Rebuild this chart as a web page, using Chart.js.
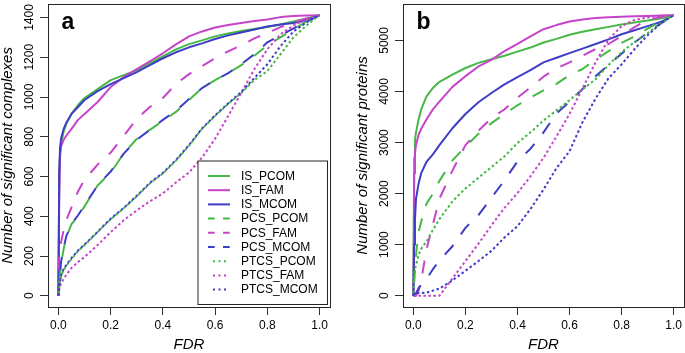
<!DOCTYPE html>
<html>
<head>
<meta charset="utf-8">
<script src="https://cdn.jsdelivr.net/npm/chart.js@4.4.1/dist/chart.umd.min.js"></script>
<style>
  html, body { margin: 0; padding: 0; background: #ffffff; }
  #wrap { position: relative; width: 685px; height: 353px; overflow: hidden; background: #ffffff; }
  #ca { position: absolute; left: 0; top: 0; }
  #cb { position: absolute; left: 345px; top: 0; }
</style>
</head>
<body>
<div id="wrap">
  <canvas id="ca" width="345" height="353"></canvas>
  <canvas id="cb" width="340" height="353"></canvas>
</div>
<script>
// ---------------- data ----------------
const FDR = [0, 0.003, 0.006, 0.01, 0.02, 0.03, 0.05, 0.075, 0.1, 0.15, 0.2, 0.25, 0.3, 0.35, 0.4, 0.45, 0.5, 0.55, 0.6, 0.65, 0.7, 0.75, 0.8, 0.85, 0.9, 0.95, 1.0];
const seriesNames = ['IS_PCOM', 'IS_FAM', 'IS_MCOM', 'PCS_PCOM', 'PCS_FAM', 'PCS_MCOM', 'PTCS_PCOM', 'PTCS_FAM', 'PTCS_MCOM'];
const xTicks = [0, 0.2, 0.4, 0.6, 0.8, 1.0];
const yTicksA = [0, 200, 400, 600, 800, 1000, 1200, 1400];
const yTicksB = [0, 1000, 2000, 3000, 4000, 5000];

// panel a: number of significant complexes
const A_IS_PCOM   = [0, 600, 720, 770, 825, 865, 915, 960, 995, 1040, 1085, 1110, 1135, 1170, 1205, 1240, 1266, 1285, 1305, 1320, 1332, 1342, 1352, 1365, 1380, 1395, 1412];
const A_IS_FAM    = [0, 500, 700, 750, 785, 805, 840, 885, 915, 975, 1050, 1100, 1140, 1180, 1220, 1265, 1305, 1330, 1350, 1362, 1372, 1382, 1390, 1402, 1408, 1410, 1412];
const A_IS_MCOM   = [0, 620, 740, 790, 840, 870, 915, 950, 985, 1030, 1065, 1095, 1125, 1160, 1195, 1225, 1250, 1270, 1292, 1310, 1325, 1340, 1355, 1365, 1372, 1385, 1412];
const A_PCS_PCOM  = [0, 60, 100, 160, 235, 295, 360, 400, 450, 555, 620, 715, 790, 835, 880, 925, 985, 1045, 1085, 1120, 1160, 1208, 1260, 1300, 1340, 1380, 1412];
const A_PCS_FAM   = [0, 200, 230, 270, 330, 380, 445, 525, 585, 660, 720, 805, 890, 950, 995, 1065, 1115, 1155, 1195, 1230, 1260, 1295, 1322, 1352, 1375, 1395, 1412];
const A_PCS_MCOM  = [0, 70, 110, 170, 240, 300, 360, 405, 455, 555, 625, 715, 785, 835, 885, 930, 990, 1045, 1085, 1120, 1165, 1215, 1275, 1310, 1345, 1380, 1412];
const A_PTCS_PCOM = [0, 40, 70, 95, 130, 150, 185, 225, 255, 320, 385, 440, 500, 565, 615, 680, 755, 840, 905, 965, 1020, 1085, 1130, 1215, 1300, 1360, 1412];
const A_PTCS_FAM  = [0, 30, 50, 62, 85, 105, 140, 170, 195, 255, 320, 380, 430, 475, 515, 570, 620, 695, 790, 905, 1020, 1140, 1240, 1315, 1360, 1390, 1412];
const A_PTCS_MCOM = [0, 45, 75, 100, 135, 155, 190, 228, 258, 322, 388, 442, 503, 568, 618, 683, 758, 842, 908, 968, 1025, 1095, 1165, 1255, 1330, 1375, 1412];

// panel b: number of significant proteins
const B_IS_PCOM   = [0, 2700, 3050, 3200, 3450, 3650, 3900, 4070, 4190, 4330, 4460, 4560, 4630, 4700, 4780, 4860, 4960, 5030, 5110, 5170, 5220, 5265, 5310, 5350, 5390, 5430, 5495];
const B_IS_FAM    = [0, 2400, 2800, 2950, 3150, 3270, 3450, 3650, 3800, 4090, 4300, 4490, 4620, 4790, 4930, 5080, 5220, 5300, 5370, 5410, 5440, 5455, 5465, 5472, 5480, 5488, 5495];
const B_IS_MCOM   = [0, 1000, 1500, 1900, 2200, 2400, 2620, 2770, 2950, 3280, 3560, 3790, 3970, 4140, 4280, 4420, 4570, 4660, 4750, 4840, 4930, 5020, 5120, 5200, 5280, 5360, 5495];
const B_PCS_PCOM  = [0, 250, 500, 800, 1250, 1450, 1800, 2000, 2250, 2650, 2920, 3170, 3380, 3560, 3730, 3880, 4020, 4150, 4320, 4440, 4620, 4790, 4950, 5080, 5230, 5370, 5495];
const B_PCS_FAM   = [0, 0, 0, 0, 100, 300, 900, 1400, 1900, 2450, 2950, 3230, 3480, 3650, 3880, 4080, 4290, 4450, 4570, 4700, 4830, 4930, 5090, 5260, 5400, 5460, 5495];
const B_PCS_MCOM  = [0, 20, 40, 50, 150, 220, 330, 520, 690, 970, 1330, 1580, 1920, 2260, 2630, 2880, 3200, 3570, 3800, 4050, 4300, 4520, 4740, 4960, 5150, 5330, 5495];
const B_PTCS_PCOM = [0, 400, 520, 600, 800, 920, 1060, 1290, 1500, 1850, 2100, 2310, 2520, 2730, 2990, 3200, 3430, 3630, 3830, 4040, 4240, 4520, 4770, 4970, 5140, 5330, 5495];
const B_PTCS_FAM  = [0, 0, 0, 0, 0, 0, 0, 0, 0, 340, 680, 1020, 1380, 1720, 2010, 2340, 2700, 3120, 3560, 4060, 4570, 5020, 5280, 5400, 5450, 5480, 5495];
const B_PTCS_MCOM = [0, 40, 45, 50, 55, 55, 60, 100, 140, 300, 490, 680, 880, 1140, 1360, 1700, 2080, 2500, 2830, 3400, 3860, 4260, 4530, 4830, 5100, 5330, 5495];

// ---------------- styles ----------------
const FONT = '"Liberation Sans", Arial, Helvetica, sans-serif';
Chart.defaults.font.family = FONT;
Chart.defaults.color = '#000000';
const COLORS = { PCOM: '#45b845', FAM: '#c644c9', MCOM: '#3d3dc6' };
const PLOT_DASH = { IS: [], PCS: [13, 13], PTCS: [2.5, 2.5] };
const LEGEND_DASH = { IS: [], PCS: [6.7, 8.3], PTCS: [2, 3.5] };
const PHASE = { IS: 0, PCS: 13, PTCS: 2.5 };

function buildDatasets(vals) {
  return seriesNames.map((name, i) => {
    const [kind, group] = name.split('_');
    return {
      label: name,
      data: FDR.map((f, j) => ({ x: f, y: vals[i][j] })),
      borderColor: COLORS[group],
      backgroundColor: COLORS[group],
      borderWidth: 2,
      borderDash: PLOT_DASH[kind],
      borderDashOffset: group === 'PCOM' ? PHASE[kind] : 0,
      borderCapStyle: 'butt',
      borderJoinStyle: 'round',
      pointRadius: 0,
      pointHoverRadius: 0,
      tension: 0,
      fill: false,
      order: seriesNames.length - i,
      legendKind: kind
    };
  });
}

// frame around the plot region + panel letter
const framePlugin = {
  id: 'frame',
  afterDraw(chart, args, opts) {
    const { ctx, chartArea: a } = chart;
    const L = Math.round(a.left), R = Math.round(a.right), T = Math.round(a.top), B = Math.round(a.bottom);
    ctx.save();
    ctx.strokeStyle = '#262626';
    ctx.lineWidth = 1;
    ctx.setLineDash([]);
    ctx.strokeRect(L + 0.5, T + 0.5, R - L, B - T);
    ctx.fillStyle = '#000000';
    ctx.font = 'bold 23px ' + FONT;
    ctx.textAlign = 'left';
    ctx.textBaseline = 'alphabetic';
    ctx.fillText(opts.text, L + 13.5, T + 25);
    ctx.restore();
  }
};

// boxed legend in the lower right corner of the plot region
const boxLegendPlugin = {
  id: 'boxLegend',
  afterDraw(chart, args, opts) {
    if (!opts.show) return;
    const { ctx, chartArea: a } = chart;
    const ds = chart.data.datasets;
    const x1 = Math.round(a.right) - 2.5, y1 = Math.round(a.bottom) - 2.5;
    const x0 = x1 - 129.5, y0 = y1 - 143.5;
    ctx.save();
    ctx.fillStyle = '#ffffff';
    ctx.fillRect(x0, y0, x1 - x0, y1 - y0);
    ctx.strokeStyle = '#262626';
    ctx.lineWidth = 1;
    ctx.setLineDash([]);
    ctx.strokeRect(x0, y0, x1 - x0, y1 - y0);
    ctx.font = '12px ' + FONT;
    ctx.textAlign = 'left';
    ctx.textBaseline = 'middle';
    ds.forEach((d, i) => {
      const y = y0 + 15 + i * 14.2;
      ctx.save();
      ctx.strokeStyle = d.borderColor;
      ctx.lineWidth = 2;
      ctx.lineCap = 'butt';
      ctx.setLineDash(LEGEND_DASH[d.legendKind]);
      ctx.beginPath();
      if (d.legendKind === 'PTCS') {
        ctx.moveTo(x0 + 15, y); ctx.lineTo(x0 + 29, y);
      } else {
        ctx.moveTo(x0 + 10, y); ctx.lineTo(x0 + 32, y);
      }
      ctx.stroke();
      ctx.restore();
      ctx.fillStyle = '#000000';
      ctx.fillText(d.label, x0 + 43, y + 0.5);
    });
    ctx.restore();
  }
};

function yRange(vals) {
  let mx = 0;
  vals.forEach(s => s.forEach(v => { if (v > mx) mx = v; }));
  return { min: -0.04 * mx, max: 1.04 * mx };
}

function makeScales(yTicks, yr, yTitle, yWidth, yTitlePad) {
  return {
    x: {
      type: 'linear',
      min: -0.04,
      max: 1.04,
      afterBuildTicks: s => { s.ticks = xTicks.map(v => ({ value: v })); },
      afterFit: s => { s.height = 46; },
      ticks: {
        autoSkip: false, minRotation: 0, maxRotation: 0, padding: 3,
        color: '#000000', font: { size: 12, family: FONT },
        callback: v => Number(v).toFixed(1)
      },
      grid: { display: true, drawOnChartArea: false, drawTicks: true, tickLength: 8, color: '#333333', lineWidth: 1 },
      border: { display: false },
      title: {
        display: true, text: 'FDR', color: '#000000',
        font: { size: 15, style: 'italic', family: FONT, lineHeight: 1 },
        padding: { top: 0, bottom: 0.5 }
      }
    },
    y: {
      type: 'linear',
      min: yr.min,
      max: yr.max,
      afterBuildTicks: s => { s.ticks = yTicks.map(v => ({ value: v })); },
      afterFit: s => { s.width = yWidth; },
      ticks: {
        autoSkip: false, minRotation: 90, maxRotation: 90, crossAlign: 'center', padding: -3.3,
        color: '#000000', font: { size: 12, family: FONT },
        callback: v => String(v)
      },
      grid: { display: true, drawOnChartArea: false, drawTicks: true, tickLength: 8, color: '#333333', lineWidth: 1 },
      border: { display: false },
      title: {
        display: true, text: yTitle, color: '#000000',
        font: { size: 15, style: 'italic', family: FONT, lineHeight: 1 },
        padding: { top: yTitlePad, bottom: 0 }
      }
    }
  };
}

function makeChart(canvasId, vals, yTicks, yTitle, letter, showLegend, yWidth, yTitlePad, rightPad) {
  const yr = yRange(vals);
  return new Chart(document.getElementById(canvasId), {
    type: 'line',
    data: { datasets: buildDatasets(vals) },
    options: {
      responsive: false,
      maintainAspectRatio: false,
      devicePixelRatio: 1,
      animation: false,
      events: [],
      layout: { padding: { left: 0, right: rightPad, top: 3, bottom: 0 } },
      scales: makeScales(yTicks, yr, yTitle, yWidth, yTitlePad),
      plugins: {
        legend: { display: false },
        tooltip: { enabled: false },
        frame: { text: letter },
        boxLegend: { show: showLegend }
      }
    },
    plugins: [framePlugin, boxLegendPlugin]
  });
}

makeChart('ca',
  [A_IS_PCOM, A_IS_FAM, A_IS_MCOM, A_PCS_PCOM, A_PCS_FAM, A_PCS_MCOM, A_PTCS_PCOM, A_PTCS_FAM, A_PTCS_MCOM],
  yTicksA, 'Number of significant complexes', 'a', true, 48, 0, 15);

makeChart('cb',
  [B_IS_PCOM, B_IS_FAM, B_IS_MCOM, B_PCS_PCOM, B_PCS_FAM, B_PCS_MCOM, B_PTCS_PCOM, B_PTCS_FAM, B_PTCS_MCOM],
  yTicksB, 'Number of significant proteins', 'b', false, 58, 10, 1);
</script>
</body>
</html>
